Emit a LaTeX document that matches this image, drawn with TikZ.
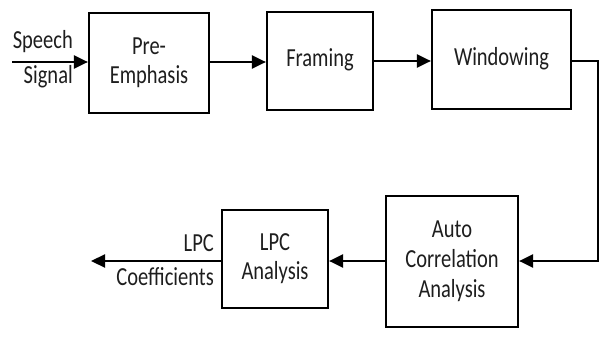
\documentclass[tikz,border=0pt]{standalone}
\usepackage{fontspec}
\setmainfont{Carlito}
\usetikzlibrary{arrows.meta}
\definecolor{ink}{HTML}{1E1E1E}
% text set slightly tall, as in the drawing's lettering
\newcommand{\tallstack}[1]{\scalebox{1}[1.27]{\fontsize{20.5}{23.6}\selectfont\begin{tabular}{@{}c@{}}#1\end{tabular}}}
\newcommand{\tallword}[1]{\scalebox{1}[1.27]{\fontsize{20.5}{23.6}\selectfont #1}}
\tikzset{
  x=1pt, y=-1pt,
  block/.style={draw=black, line width=2.2pt, fill=white,
    text=ink, inner sep=0pt},
  lbl/.style={text=ink, inner sep=0pt},
  flow/.style={line width=2.2pt, -{Triangle[length=14pt,width=13pt]}},
}
\begin{document}
\begin{tikzpicture}
\useasboundingbox (0,0) rectangle (605,340);

% processing blocks
\node[block, minimum width=120pt, minimum height=100pt] (pre) at (149,63) {\tallstack{Pre-\\Emphasis}};
\node[block, minimum width=106pt, minimum height=98pt] (frm) at (320,61) {\tallstack{Framing}};
\node[block, minimum width=139pt, minimum height=99pt] (win) at (501.5,59.5) {\tallstack{Windowing}};
\node[block, minimum width=132pt, minimum height=131pt] (auto) at (452,261.5) {\tallstack{Auto\\Correlation\\Analysis}};
\node[block, minimum width=106pt, minimum height=98pt] (lpc) at (275,259) {\tallstack{LPC\\Analysis}};

% free ends and bends
\coordinate (in) at (12,62);
\coordinate (out) at (91,261);
\coordinate (bendA) at (598,61);
\coordinate (bendB) at (598,261);

% labels on the outer arrows
\node[lbl, anchor=east] (speech) at (73,42) {\tallword{Speech}};
\node[lbl, anchor=east] (signal) at (73,77) {\tallword{Signal}};
\node[lbl, anchor=east] (lpctxt) at (214,243) {\tallword{LPC}};
\node[lbl, anchor=east] (coef) at (214,277) {\tallword{Coefficients}};

% connectors
\draw[flow] (in) -- (in -| pre.west);
\draw[flow] (pre.east |- 0,62) -- (frm.west |- 0,62);
\draw[flow] (frm.east |- 0,61) -- (win.west |- 0,61);
\draw[flow] (win.east |- bendA) -- (bendA) -- (bendB) -- (auto.east |- bendB);
\draw[flow] (auto.west |- bendB) -- (lpc.east |- bendB);
\draw[flow] (lpc.west |- out) -- (out);
\end{tikzpicture}
\end{document}
